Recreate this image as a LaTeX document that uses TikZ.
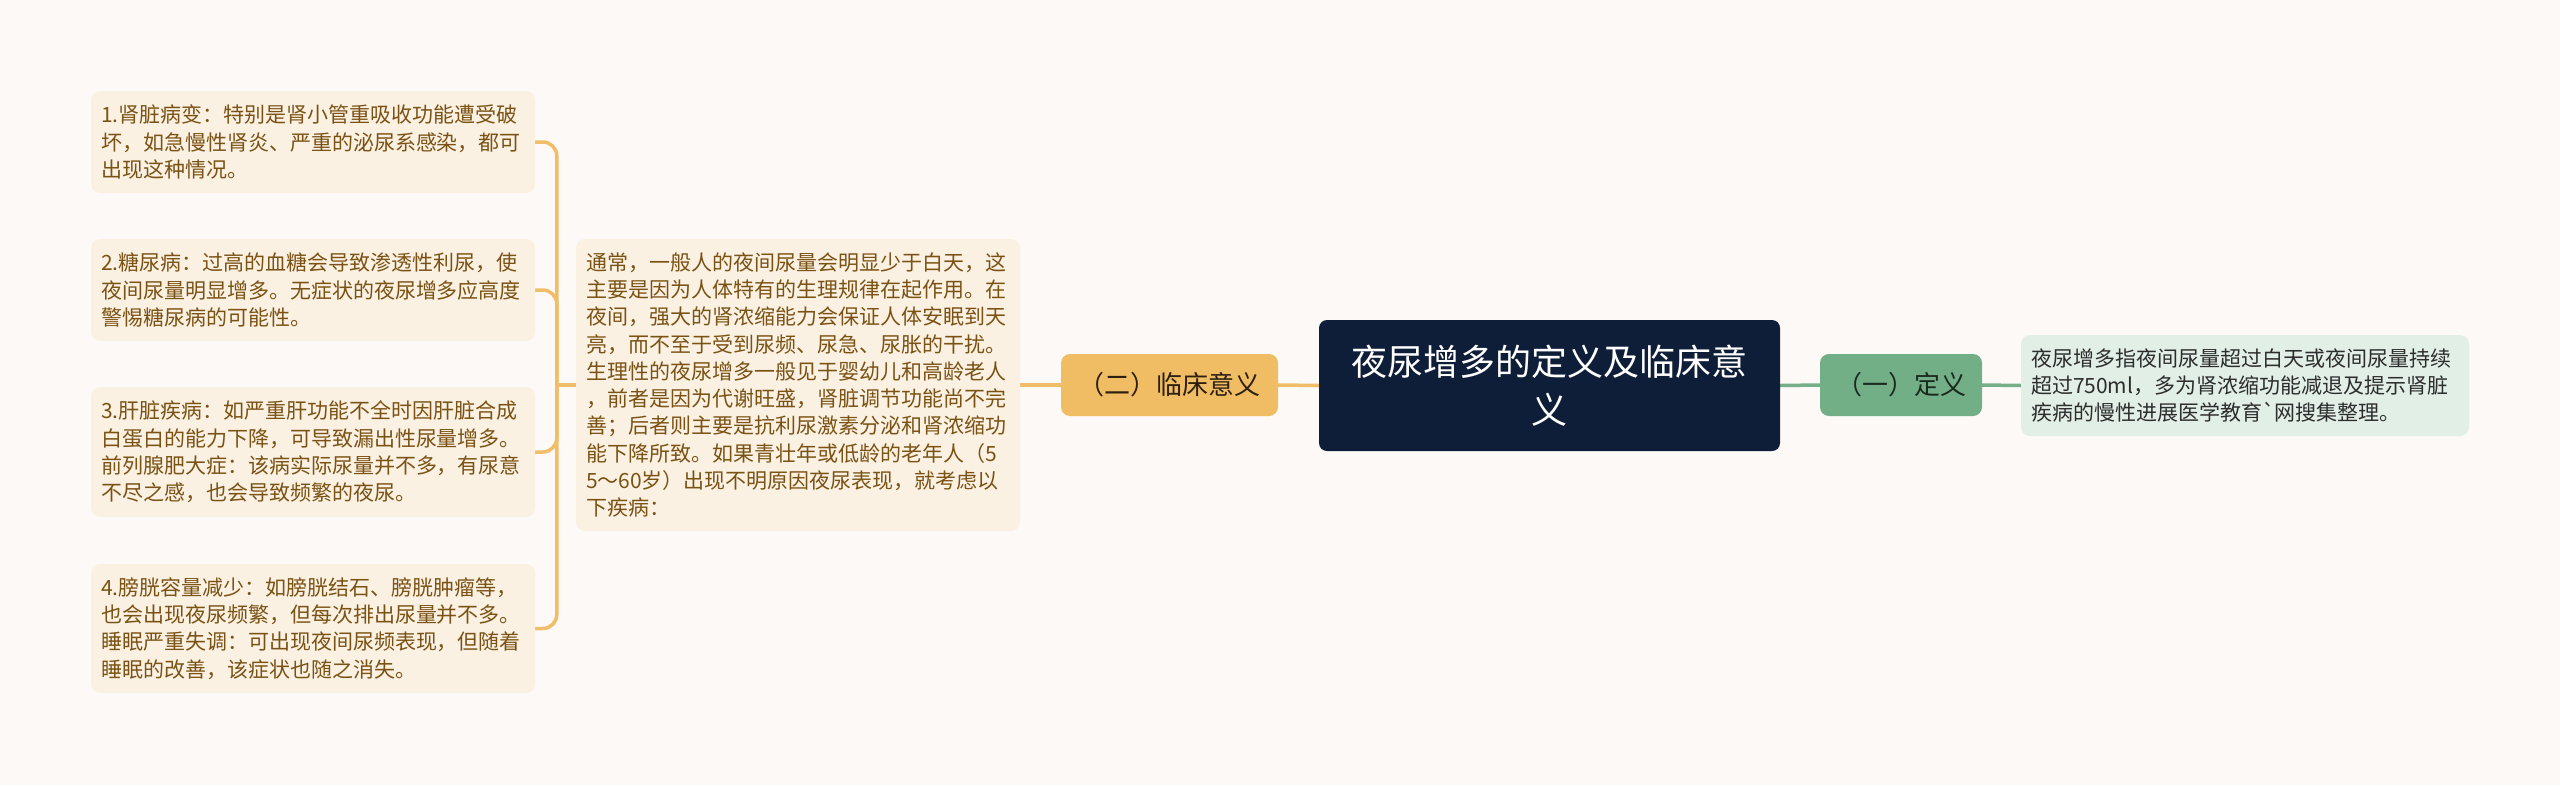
\documentclass[tikz,border=0pt]{standalone}
\usepackage{fontspec}
\newfontfamily\cjkfont{Noto Sans CJK SC}
\definecolor{bgc}{RGB}{252,249,247}
\definecolor{leaffill}{RGB}{251,241,226}
\definecolor{leaftext}{RGB}{122,82,20}
\definecolor{rootfill}{RGB}{14,30,56}
\definecolor{orangefill}{RGB}{240,189,100}
\definecolor{orangeline}{RGB}{240,190,105}
\definecolor{branchtext}{RGB}{45,32,15}
\definecolor{greenfill}{RGB}{114,174,134}
\definecolor{greenline}{RGB}{118,174,136}
\definecolor{greentext}{RGB}{28,42,30}
\definecolor{deffill}{RGB}{226,239,230}
\definecolor{deftext}{RGB}{45,45,45}
\pgfdeclarelayer{bglayer}
\pgfdeclarelayer{linelayer}
\pgfsetlayers{bglayer,linelayer,main}
\tikzset{
  leafbox/.style={draw=none, fill=leaffill, rounded corners=9pt, text=leaftext,
    font=\cjkfont\fontsize{21}{27.3}\selectfont, align=left, text width=424pt,
    inner xsep=10pt, inner ysep=4pt, anchor=center},
  defbox/.style={leafbox, fill=deffill, text=deftext, text width=428pt},
  rootbox/.style={fill=rootfill, rounded corners=8pt, text=white,
    font=\cjkfont\fontsize{36}{48}\selectfont, align=center,
    minimum width=461pt, minimum height=131pt, inner sep=0pt, anchor=center},
  orangebox/.style={fill=orangefill, rounded corners=9pt, text=branchtext,
    font=\cjkfont\fontsize{26}{30}\selectfont, align=center,
    minimum height=62pt, inner sep=0pt, anchor=center},
  greenbox/.style={orangebox, fill=greenfill, text=greentext},
  oline/.style={draw=orangeline, line width=3.5pt},
  gline/.style={draw=greenline, line width=3.5pt},
}
\begin{document}
\begin{tikzpicture}[x=1pt,y=-1pt]
\useasboundingbox (0,0) rectangle (2560,785);
\begin{pgfonlayer}{bglayer}
\fill[bgc] (0,0) rectangle (2560,785);
\end{pgfonlayer}

\node[leafbox, minimum height=102pt] (l1) at (313,142) {1.肾脏病变：特别是肾小管重吸收功能遭受破\\坏，如急慢性肾炎、严重的泌尿系感染，都可\\出现这种情况。};
\node[leafbox, minimum height=102pt] (l2) at (313,290) {2.糖尿病：过高的血糖会导致渗透性利尿，使\\夜间尿量明显增多。无症状的夜尿增多应高度\\警惕糖尿病的可能性。};
\node[leafbox, minimum height=130pt] (l3) at (313,452) {3.肝脏疾病：如严重肝功能不全时因肝脏合成\\白蛋白的能力下降，可导致漏出性尿量增多。\\前列腺肥大症：该病实际尿量并不多，有尿意\\不尽之感，也会导致频繁的夜尿。};
\node[leafbox, minimum height=129pt] (l4) at (313,628.5) {4.膀胱容量减少：如膀胱结石、膀胱肿瘤等，\\也会出现夜尿频繁，但每次排出尿量并不多。\\睡眠严重失调：可出现夜间尿频表现，但随着\\睡眠的改善，该症状也随之消失。};

\node[leafbox, minimum height=292pt] (mid) at (798,385) {通常，一般人的夜间尿量会明显少于白天，这\\主要是因为人体特有的生理规律在起作用。在\\夜间，强大的肾浓缩能力会保证人体安眠到天\\亮，而不至于受到尿频、尿急、尿胀的干扰。\\生理性的夜尿增多一般见于婴幼儿和高龄老人\\，前者是因为代谢旺盛，肾脏调节功能尚不完\\善；后者则主要是抗利尿激素分泌和肾浓缩功\\能下降所致。如果青壮年或低龄的老年人（5\\5～60岁）出现不明原因夜尿表现，就考虑以\\下疾病：};

\node[orangebox, minimum width=217pt] (b2) at (1169.5,385) {（二）临床意义};
\node[rootbox] (root) at (1549.5,385.5) {夜尿增多的定义及临床意\\义};
\node[greenbox, minimum width=162pt] (b1) at (1901,385) {（一）定义};
\node[defbox, minimum height=101pt] (def) at (2245,385.5) {夜尿增多指夜间尿量超过白天或夜间尿量持续\\超过750ml，多为肾浓缩功能减退及提示肾脏\\疾病的慢性进展医学教育\symbol{96}网搜集整理。};

\begin{pgfonlayer}{linelayer}
\coordinate (jn) at ([xshift=-19pt]mid.west);
\draw[oline] (mid.west) -- (jn);
\foreach \n in {l1,l2,l3,l4}{
  \draw[oline, rounded corners=14pt] (jn) |- (\n.east);
}
\draw[oline] (mid.east) -- (b2.west);
\draw[oline] (b2.east) -- (root.west);
\draw[gline] (root.east) -- (b1.west);
\draw[gline] (b1.east) -- (def.west);
\end{pgfonlayer}
\end{tikzpicture}
\end{document}
